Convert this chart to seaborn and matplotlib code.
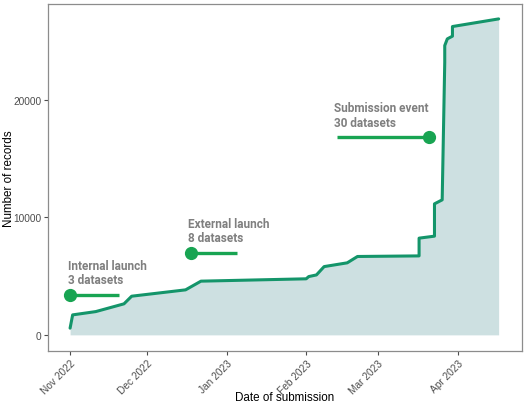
import matplotlib
matplotlib.use("Agg")
import matplotlib.pyplot as plt
import matplotlib.dates as mdates
import pandas as pd
import seaborn as sns

# cumulative records by submission date
dates = ["2022-11-01", "2022-11-02", "2022-11-11", "2022-11-22", "2022-11-25",
         "2022-12-16", "2022-12-22", "2023-02-01", "2023-02-02", "2023-02-05",
         "2023-02-08", "2023-02-17", "2023-02-21", "2023-03-17", "2023-03-17",
         "2023-03-23", "2023-03-23", "2023-03-26", "2023-03-27", "2023-03-27",
         "2023-03-28", "2023-03-30", "2023-03-30", "2023-04-17"]
records = [570, 1700, 1980, 2640, 3290,
           3830, 4570, 4770, 4960, 5100,
           5810, 6130, 6670, 6720, 8230,
           8400, 11150, 11490, 23200, 24620,
           25190, 25420, 26240, 26890]

# launch annotations
event_labels = ["Internal launch\n3 datasets", "External launch\n8 datasets",
                "Submission event\n30 datasets"]
event_dates = ["2022-11-01", "2022-12-18", "2023-03-21"]
event_tail_dates = ["2022-11-20", "2023-01-05", "2023-02-13"]
event_y = [3400, 6950, 16800]

df = pd.DataFrame({"date": pd.to_datetime(dates), "records": records})

sns.set_style("white")
plt.rcParams["font.family"] = ["Liberation Sans", "DejaVu Sans"]

fig = plt.figure(figsize=(5.27, 4.10), dpi=100)
ax = fig.add_axes([0.092, 0.141, 0.898, 0.848])

line_col = "#14956a"
dot_col = "#18a452"

ax.fill_between(df["date"], 0, df["records"], color="#cde0e1", lw=0)
sns.lineplot(data=df, x="date", y="records", ax=ax, color=line_col,
             linewidth=2.2, estimator=None, sort=False)

for lab, d, t, y in zip(event_labels, event_dates, event_tail_dates, event_y):
    d, t = pd.Timestamp(d), pd.Timestamp(t)
    ax.plot([d, t], [y, y], color=dot_col, lw=2.4, solid_capstyle="butt")
    ax.plot(d, y, "o", color=dot_col, ms=8.5)
    left = min(d, t) - pd.Timedelta(days=1)
    ax.text(left, y + 750, lab, ha="left", va="bottom", fontsize=8.5,
            fontweight="bold", color="#7f7f7f", linespacing=1.15,
            family=["Roboto", "DejaVu Sans"])

ax.set_xlim(pd.Timestamp("2022-10-23 14:00"), pd.Timestamp("2023-04-26"))
ax.set_ylim(-1390, 28200)
ax.set_yticks([0, 10000, 20000])
ax.set_yticklabels(["0", "10000", "20000"])
ax.xaxis.set_major_locator(mdates.MonthLocator())
ax.xaxis.set_major_formatter(mdates.DateFormatter("%b %Y"))
plt.setp(ax.get_xticklabels(), rotation=45, ha="right", rotation_mode="anchor")

ax.tick_params(axis="both", colors="#4d4d4d", labelsize=7.3, length=3,
               width=0.8, bottom=True, left=True, pad=2)
for sp in ax.spines.values():
    sp.set_color("#8c8c8c")
    sp.set_linewidth(0.9)

ax.set_xlabel("Date of submission", fontsize=8.4, color="black")
ax.set_ylabel("Number of records", fontsize=8.4, color="black")
ax.xaxis.set_label_coords(0.5, -0.115)
ax.yaxis.set_label_coords(-0.071, 0.5)

fig.savefig("out.png", dpi=100)
